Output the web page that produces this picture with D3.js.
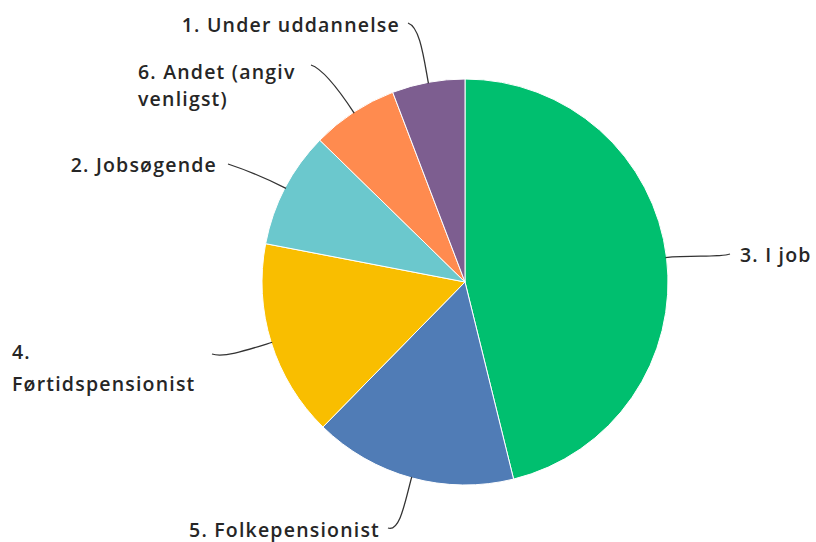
<!DOCTYPE html>
<html><head><meta charset="utf-8">
<script src="https://cdn.jsdelivr.net/npm/d3@7"></script>
<style>body{margin:0;background:#fff}svg{display:block}</style>
</head><body>
<svg id="c" width="816" height="542"></svg>
<script>
const categories = ["3. I job","5. Folkepensionist","4. Førtidspensionist","2. Jobsøgende","6. Andet (angiv venligst)","1. Under uddannelse"];
const values = [46.2, 16.2, 15.7, 9.3, 6.9, 5.8];
const colors = ["#00BF6F","#507CB6","#F9BE00","#6BC8CD","#FF8B4F","#7D5E90"];

// label layout: text lines, anchor, position, line spacing, leader end point
const labelLayout = [
  {lines:["3. I job"], x:740, y:262, anchor:"start", gap:0, end:[730,254]},
  {lines:["5. Folkepensionist"], x:380, y:537, anchor:"end", gap:0, end:[388,528]},
  {lines:["4.","Førtidspensionist"], x:12, y:359, anchor:"start", gap:32, end:[212,354]},
  {lines:["2. Jobsøgende"], x:217, y:172, anchor:"end", gap:0, end:[228,164]},
  {lines:["6. Andet (angiv","venligst)"], x:138, y:79, anchor:"start", gap:27, end:[311,65]},
  {lines:["1. Under uddannelse"], x:400, y:32, anchor:"end", gap:0, end:[408,23]}
];

const svg = d3.select("#c");
const cx = 465, cy = 282, R = 203;
const g = svg.append("g").attr("transform",`translate(${cx},${cy})`);
const pie = d3.pie().sort(null).value(d=>d.v);
const data = pie(categories.map((c,i)=>({c, v:values[i], i})));
const arc = d3.arc().innerRadius(0).outerRadius(R);

g.selectAll("path.slice").data(data).enter().append("path")
  .attr("class","slice")
  .attr("d",arc)
  .attr("fill",d=>colors[d.data.i])
  .attr("stroke","#fff").attr("stroke-width",1);

// leader lines
data.forEach(d=>{
  const L = labelLayout[d.data.i];
  const a = (d.startAngle+d.endAngle)/2;
  const p0 = [cx+Math.sin(a)*(R-1), cy-Math.cos(a)*(R-1)];
  const c1 = [cx+Math.sin(a)*(R+25), cy-Math.cos(a)*(R+25)];
  const e = L.end;
  const dir = e[0] > L.x ? 1 : -1;
  const c2 = [e[0]+dir*12, e[1]+4];
  const p = d3.path();
  p.moveTo(p0[0],p0[1]);
  p.bezierCurveTo(c1[0],c1[1],c2[0],c2[1],e[0],e[1]);
  svg.append("path").attr("d",p.toString()).attr("fill","none")
    .attr("stroke","#333").attr("stroke-width",1.3);
});

// labels
labelLayout.forEach(L=>{
  const t = svg.append("text").attr("x",L.x).attr("y",L.y)
    .attr("text-anchor",L.anchor)
    .attr("font-family","'Open Sans', sans-serif")
    .attr("font-weight",600)
    .attr("letter-spacing","1.2px")
    .attr("font-size",19.5).attr("fill","#262626");
  L.lines.forEach((s,k)=>{
    t.append("tspan").attr("x",L.x).attr("dy",k?L.gap:0).text(s);
  });
});
</script>
</body></html>
